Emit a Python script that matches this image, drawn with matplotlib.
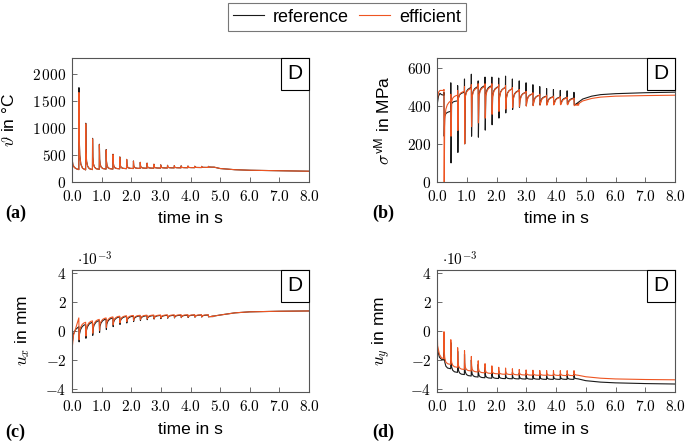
import numpy as np
import matplotlib.pyplot as plt
from matplotlib.offsetbox import AnchoredText

plt.rcParams['font.family'] = ['Liberation Sans', 'DejaVu Sans']
plt.rcParams['mathtext.fontset'] = 'cm'

REF_COLOR = '#1a1a1a'
EFF_COLOR = '#ee5522'
GRAY = '#555555'

# spike instants (one per layer)
t_spk = [0.23, 0.46, 0.69, 0.92, 1.15, 1.38, 1.61, 1.84, 2.07, 2.30,
         2.53, 2.76, 2.99, 3.22, 3.45, 3.68, 3.91, 4.14, 4.37, 4.60]
period = 0.23

# (a) temperature in degC
temp_head_t = [0.0, 0.004, 0.03, 0.08, 0.15]
temp_head = [2120, 420, 320, 270, 245]
temp_trough = [230, 225, 230, 235, 240, 240, 245, 248, 250, 252,
               255, 256, 258, 260, 262, 263, 265, 266, 268, 270]
temp_ref_peak = [1750, 1090, 810, 700, 600, 515, 465, 420, 390, 365,
                 350, 330, 318, 310, 305, 300, 296, 292, 290, 290]
temp_eff_peak = [1660, 1080, 800, 690, 595, 510, 460, 418, 388, 363,
                 348, 328, 316, 308, 303, 298, 295, 291, 289, 289]
temp_tail_t = [4.8, 5.0, 5.5, 6.0, 7.0, 8.0]
temp_tail = [275, 250, 228, 218, 208, 200]

# (b) von Mises stress in MPa
vm_ref_head_t = [0.0, 0.05, 0.1, 0.15]
vm_ref_head = [400, 450, 465, 458]
vm_ref_pre = [455, 370, 425, 470, 495, 500, 505, 505, 500, 495,
              488, 480, 470, 462, 455, 450, 447, 445, 443, 440]
vm_ref_hi = [470, 520, 505, 540, 565, 530, 550, 550, 545, 555,
             540, 530, 520, 510, 500, 490, 485, 480, 478, 470]
vm_ref_lo = [240, 100, 155, 200, 240, 235, 272, 300, 335, 362,
             380, 392, 400, 402, 405, 405, 408, 410, 410, 405]
vm_ref_post = [345, 410, 440, 450, 450, 455, 455, 450, 445, 440,
               435, 430, 425, 420, 418, 415, 413, 412, 411, 405]
vm_ref_tail_t = [4.7, 4.9, 5.2, 5.5, 6.0, 7.0, 8.0]
vm_ref_tail = [412, 435, 450, 458, 463, 468, 471]

vm_eff_head_t = [0.0, 0.05, 0.1, 0.15]
vm_eff_head = [420, 470, 480, 480]
vm_eff_pre = [480, 425, 455, 475, 490, 495, 500, 500, 498, 495,
              488, 478, 470, 462, 455, 448, 445, 443, 440, 437]
vm_eff_hi = [485, 460, 480, 500, 510, 515, 515, 515, 510, 505,
             495, 485, 475, 468, 460, 455, 450, 447, 445, 440]
vm_eff_lo = [0, 240, 270, 200, 290, 310, 335, 355, 370, 382,
             390, 395, 398, 400, 402, 403, 404, 405, 405, 400]
vm_eff_post = [330, 420, 440, 445, 445, 448, 448, 445, 440, 435,
               430, 425, 420, 415, 412, 410, 408, 407, 406, 402]
vm_eff_tail_t = [4.7, 4.9, 5.2, 5.5, 6.0, 7.0, 8.0]
vm_eff_tail = [405, 425, 438, 445, 450, 453, 455]

# (c) u_x in 1e-3 mm
ux_ref_head_t = [0.0, 0.01, 0.05, 0.12]
ux_ref_head = [0.0, -0.8, -0.2, 0.1]
ux_ref_top = [0.3, 0.45, 0.6, 0.72, 0.82, 0.9, 0.97, 1.0, 1.02, 1.04,
              1.05, 1.06, 1.07, 1.08, 1.08, 1.09, 1.09, 1.1, 1.1, 1.1]
ux_ref_lo = [-0.75, -0.5, -0.3, -0.1, 0.1, 0.3, 0.45, 0.55, 0.65, 0.72,
             0.78, 0.82, 0.85, 0.88, 0.9, 0.92, 0.93, 0.95, 0.96, 0.97]
ux_eff_head_t = [0.0, 0.01, 0.05, 0.12]
ux_eff_head = [0.6, -1.1, -0.3, 0.15]
ux_eff_top = [0.9, 0.6, 0.7, 0.8, 0.9, 0.97, 1.02, 1.05, 1.07, 1.08,
              1.09, 1.1, 1.1, 1.11, 1.11, 1.12, 1.12, 1.12, 1.12, 1.12]
ux_eff_lo = [-0.6, -0.35, -0.15, 0.05, 0.25, 0.42, 0.55, 0.65, 0.73, 0.78,
             0.83, 0.86, 0.89, 0.91, 0.93, 0.94, 0.95, 0.96, 0.97, 0.98]
ux_tail_t = [4.7, 5.0, 5.5, 6.0, 7.0, 8.0]
ux_tail = [1.0, 1.1, 1.25, 1.32, 1.36, 1.38]

# (d) u_y in 1e-3 mm
uy_ref_head_t = [0.0, 0.02, 0.08, 0.15]
uy_ref_head = [-0.5, -1.3, -1.8, -1.95]
uy_ref_trough = [-2.0, -2.6, -2.85, -3.0, -3.1, -3.17, -3.22, -3.25, -3.27, -3.28,
                 -3.29, -3.3, -3.31, -3.32, -3.32, -3.33, -3.33, -3.33, -3.33, -3.33]
uy_ref_peak = [-0.1, -0.8, -1.4, -1.6, -2.0, -2.3, -2.5, -2.65, -2.75, -2.8,
               -2.85, -2.88, -2.9, -2.92, -2.93, -2.94, -2.95, -2.96, -2.96, -2.96]
uy_ref_tail_t = [4.75, 5.0, 5.5, 6.0, 7.0, 8.0]
uy_ref_tail = [-3.3, -3.42, -3.52, -3.57, -3.62, -3.65]
uy_eff_head_t = [0.0, 0.02, 0.08, 0.15]
uy_eff_head = [1.0, -1.0, -1.6, -1.85]
uy_eff_trough = [-1.9, -2.3, -2.5, -2.65, -2.75, -2.82, -2.88, -2.92, -2.95, -2.98,
                 -3.0, -3.02, -3.03, -3.04, -3.05, -3.05, -3.06, -3.06, -3.07, -3.07]
uy_eff_peak = [-0.05, -0.6, -1.15, -1.35, -1.75, -2.05, -2.25, -2.4, -2.5, -2.55,
               -2.6, -2.65, -2.68, -2.7, -2.72, -2.72, -2.73, -2.73, -2.73, -2.73]
uy_eff_tail_t = [4.75, 5.0, 5.5, 6.0, 7.0, 8.0]
uy_eff_tail = [-3.05, -3.15, -3.25, -3.3, -3.34, -3.36]

# shape of one cycle, as fractions of the period / of the jump
decay_f = [0.02, 0.06, 0.14, 0.3, 0.55]
decay_g = [1.0, 0.4, 0.18, 0.07, 0.02]
rise_f = [0.3, 0.5, 0.75]
rise_g = [0.55, 0.78, 0.92]
ux_rise_f = [0.1, 0.25, 0.5, 0.75]
ux_rise_g = [0.45, 0.7, 0.88, 0.96]


def spikes_up(head_t, head, trough, peak, tail_t, tail):
    # sharp rise at each spike, then decay to the next trough
    t, y = list(head_t), list(head)
    nxt = trough[1:] + [tail[0]]
    for k, tk in enumerate(t_spk):
        t.append(tk)
        y.append(trough[k])
        for f, g in zip(decay_f, decay_g):
            t.append(tk + f * period)
            y.append(nxt[k] + g * (peak[k] - nxt[k]))
    return t + tail_t, y + tail


def spikes_vm(head_t, head, pre, hi, lo, post, tail_t, tail):
    t, y = list(head_t), list(head)
    nxt = pre[1:] + [tail[0]]
    for k, tk in enumerate(t_spk):
        t += [tk, tk + 0.004, tk + 0.012, tk + 0.03]
        y += [pre[k], hi[k], lo[k], post[k]]
        for f, g in zip(rise_f, rise_g):
            t.append(tk + f * period)
            y.append(post[k] + g * (nxt[k] - post[k]))
    return t + tail_t, y + tail


def spikes_down(head_t, head, top, lo, tail_t, tail):
    t, y = list(head_t), list(head)
    nxt = top[1:] + [tail[0]]
    for k, tk in enumerate(t_spk):
        t += [tk, tk + 0.01]
        y += [top[k], lo[k]]
        for f, g in zip(ux_rise_f, ux_rise_g):
            t.append(tk + f * period)
            y.append(lo[k] + g * (nxt[k] - lo[k]))
    return t + tail_t, y + tail


fig = plt.figure(figsize=(6.85, 4.42), dpi=100)
ax_a = fig.add_axes([72/685, 1-182/442, 237/685, 124/442])
ax_b = fig.add_axes([437/685, 1-182/442, 238/685, 124/442])
ax_c = fig.add_axes([72/685, 1-392/442, 237/685, 122/442])
ax_d = fig.add_axes([437/685, 1-392/442, 238/685, 122/442])

lw = 0.8
ax_a.plot(*spikes_up(temp_head_t, temp_head, temp_trough, temp_ref_peak, temp_tail_t, temp_tail),
          color=REF_COLOR, lw=lw)
ax_a.plot(*spikes_up(temp_head_t, temp_head, temp_trough, temp_eff_peak, temp_tail_t, temp_tail),
          color=EFF_COLOR, lw=lw)

ax_b.plot(*spikes_vm(vm_ref_head_t, vm_ref_head, vm_ref_pre, vm_ref_hi, vm_ref_lo, vm_ref_post,
                     vm_ref_tail_t, vm_ref_tail), color=REF_COLOR, lw=lw)
ax_b.plot(*spikes_vm(vm_eff_head_t, vm_eff_head, vm_eff_pre, vm_eff_hi, vm_eff_lo, vm_eff_post,
                     vm_eff_tail_t, vm_eff_tail), color=EFF_COLOR, lw=lw)

ax_c.plot(*spikes_down(ux_ref_head_t, ux_ref_head, ux_ref_top, ux_ref_lo, ux_tail_t, ux_tail),
          color=REF_COLOR, lw=lw)
ax_c.plot(*spikes_down(ux_eff_head_t, ux_eff_head, ux_eff_top, ux_eff_lo, ux_tail_t, ux_tail),
          color=EFF_COLOR, lw=lw)

ax_d.plot(*spikes_up(uy_ref_head_t, uy_ref_head, uy_ref_trough, uy_ref_peak, uy_ref_tail_t, uy_ref_tail),
          color=REF_COLOR, lw=lw)
ax_d.plot(*spikes_up(uy_eff_head_t, uy_eff_head, uy_eff_trough, uy_eff_peak, uy_eff_tail_t, uy_eff_tail),
          color=EFF_COLOR, lw=lw)

xt = np.arange(0, 9)
for ax in (ax_a, ax_b, ax_c, ax_d):
    ax.set_xlim(0, 8)
    ax.set_xticks(xt)
    ax.set_xticklabels(['$%.1f$' % v for v in xt])
    ax.tick_params(direction='in', length=3.5, width=0.6, color=GRAY, labelsize=11, pad=4)
    ax.tick_params(axis='x', pad=5)
    for s in ax.spines.values():
        s.set_color(GRAY)
        s.set_linewidth(0.8)
    at = AnchoredText('D', loc='upper right', pad=0.3, borderpad=0, frameon=True,
                      prop=dict(size=15))
    at.patch.set_edgecolor('black')
    at.patch.set_linewidth(0.8)
    ax.add_artist(at)

ax_a.set_ylim(0, 2300)
ax_a.set_yticks([0, 500, 1000, 1500, 2000])
ax_a.set_yticklabels(['$0$', '$500$', '$1\\,000$', '$1\\,500$', '$2\\,000$'])
ax_b.set_ylim(0, 650)
ax_b.set_yticks([0, 200, 400, 600])
ax_b.set_yticklabels(['$0$', '$200$', '$400$', '$600$'])
for ax in (ax_c, ax_d):
    ax.set_ylim(-4.2, 4.2)
    ax.set_yticks([-4, -2, 0, 2, 4])
    ax.set_yticklabels(['$-4$', '$-2$', '$0$', '$2$', '$4$'])
    ax.text(0.02, 1.01, '$\\cdot 10^{-3}$', transform=ax.transAxes, fontsize=11, va='bottom')

ax_a.set_ylabel('$\\vartheta$ in \u00b0C', fontsize=12.5)
ax_b.set_ylabel('$\\sigma^{\\mathsf{vM}}$ in MPa', fontsize=12.5)
ax_c.set_ylabel('$u_x$ in mm', fontsize=12.5)
ax_d.set_ylabel('$u_y$ in mm', fontsize=12.5)
ax_a.yaxis.set_label_coords(-0.232, 0.5)
ax_b.yaxis.set_label_coords(-0.185, 0.5)
ax_c.yaxis.set_label_coords(-0.169, 0.5)
ax_d.yaxis.set_label_coords(-0.185, 0.5)

for ax in (ax_a, ax_b):
    ax.set_xlabel('time in s', fontsize=12.5)
    ax.xaxis.set_label_coords(0.5, -0.23)
for ax in (ax_c, ax_d):
    ax.set_xlabel('time in s', fontsize=12.5)
    ax.xaxis.set_label_coords(0.5, -0.246)

for lab, x, y in [('(a)', 5, 213), ('(b)', 372, 213), ('(c)', 5, 432), ('(d)', 372, 432)]:
    fig.text(x/685, 1-y/442, lab, fontsize=13, fontweight='bold', family='Liberation Serif',
             va='center', ha='left')

h1, = ax_a.plot([], [], color=REF_COLOR, lw=lw)
h2, = ax_a.plot([], [], color=EFF_COLOR, lw=lw)
leg = fig.legend([h1, h2], ['reference', 'efficient'], loc='center', bbox_to_anchor=(347/685, 1-17/442),
                 ncol=2, fontsize=13, fancybox=False, edgecolor=GRAY, handlelength=1.7,
                 handletextpad=0.5, columnspacing=0.6, borderpad=0.3)
leg.get_frame().set_linewidth(0.8)

fig.savefig('out.png', dpi=100)
